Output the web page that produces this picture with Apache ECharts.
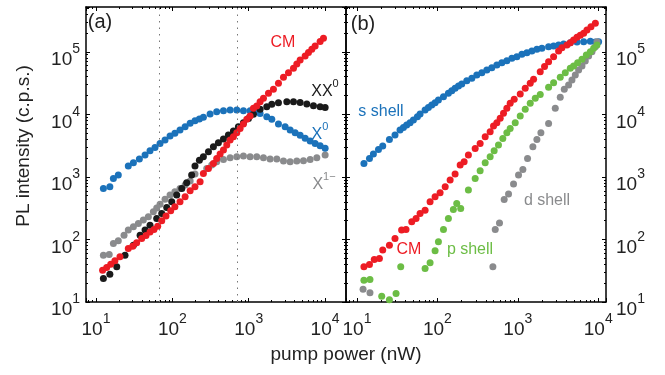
<!DOCTYPE html>
<html><head><meta charset="utf-8">
<script src="https://cdn.jsdelivr.net/npm/echarts@6/dist/echarts.min.js"></script>
<style>html,body{margin:0;padding:0;background:#fff}#c{width:665px;height:375px}</style>
</head><body><div id="c"></div>
<script>
// ---------- Panel (a) ----------
const aX1_x = [12.5,14.9,16.9,19.6,23.3,26.5,30.9,35.9,41.7,48.5,56.4,62.4,69.0,80.2,93.3,108,126,147,171,198,282,328,381,467,571,698,853,1043,1275,1560,1906,2333,2854,3489,4266,5214,6380,7800,10020];
const aX1_y = [56.1,57.4,86.1,95.0,117,141,159,180,204,230,277,318,367,441,512,578,654,739,857,1109,1366,1545,1746,1904,2024,2100,2152,2100,2100,2024,1927,1927,1791,1746,1791,1813,1904,2024,2233];

const aX0_x = [12.5,15.2,16.9,19.6,26.5,30.9,37.0,43.9,51.0,59.3,69.0,80.2,93.3,108,126,147,171,198,226,255,312,381,467,571,698,853,1043,1213,1410,1724,2006,2452,2999,3489,4057,4717,5486,6380,7415,8621,10020];
const aX0_y = [653,695,944,1068,1489,1683,1927,2233,2619,2962,3432,3880,4497,4963,5613,6350,7181,7925,8420,8963,10120,11020,11430,11720,11720,11430,11430,11020,10350,9160,8317,6996,6350,5613,5090,4617,4130,3742,3432,3153,2860];

const aXX_x = [12.5,15.2,18.7,24.0,30.9,37.8,43.9,51.0,62.4,72.6,84.4,98.2,114,133,154,179,198,226,255,297,345,401,467,542,631,733,853,993,1153,1410,1724,2006,2452,3155,3859,4717,5768,7051,8621,10020];
const aXX_y = [23.7,27.8,36.5,56.1,81.1,117,141,169,217,261,325,400,512,655,807,1070,1490,1850,2099,2525,3035,3519,4030,4670,5410,6345,7350,8620,10000,12030,13270,14440,15360,15930,15930,15530,14620,13750,13260,12920];

const aCM_x = [12.2,13.8,15.6,17.7,20.6,26.5,30.3,34.1,39.7,45.2,51.0,57.5,64.3,72.6,82.6,95.2,108,126,147,171,198,231,255,297,345,381,422,467,516,571,631,698,772,853,944,1043,1153,1275,1410,1560,1815,2108,2452,2854,3318,3859,4266,4717,5486,6065,6706,7415,8621,9531];
const aCM_y = [32.3,35.6,40.3,45.5,52.7,71.7,78.2,88.3,104,116,131,144,163,199,236,287,333,400,481,600,695,836,1137,1366,1641,1973,2317,2684,3227,3880,4387,5084,5963,6996,8317,9400,12470,13590,15930,18030,21670,25120,31320,39070,46430,54490,63880,73990,85760,97000,109700,124000,145500,164400];

const aGuides = [67, 705];

// ---------- Panel (b) ----------
const bS_x = [12.2,14.3,16.0,18.5,20.9,25.3,29.7,34.3,37.8,41.5,45.7,50.3,56.4,60.9,70.3,77.3,85.1,93.6,103,119,137,151,166,183,201,232,268,309,357,412,475,549,633,731,844,973,1124,1297,1496,1727,1994,2415,2788,3217,3714,4497,5446,6594,7984,9213,10120];
const bS_y = [1641,1973,2316,2750,3110,3975,4667,5613,6185,6741,7346,8106,9165,10110,11720,12920,14090,15360,16940,19150,21670,23890,26040,28380,30550,34570,37670,42590,46430,51200,55760,61530,67050,72150,78640,83580,91170,96940,103100,109600,113700,120900,123900,128500,133400,140100,143600,145300,147100,143600,145300];

const bD_x = [11.9,14.5,490,524,592,677,767,885,1021,1156,1322,1540,1727,1937,2415,2924,3373,3784,4285,4713,5189,5709,6283,6910,7602,8363,9213,9654];
const bD_y = [16.0,14.0,36.5,144,184,436,531,767,1069,1318,1976,3035,3975,5080,7160,12470,18710,25120,29460,35420,42590,51200,59330,71320,85760,100500,120900,145300];

const bP_x = [12.2,14.5,20.3,25.3,30.6,35.0,70.3,81.1,93.6,103,119,137,158,174,195,243,295,340,393,453,508,575,651,731,804,929,1072,1237,1427,1649,1901,2415,2788,3373,3894,4497,4943,5547,6283,7116,7984,8774,9654];
const bP_y = [22.3,22.9,12.4,10.9,13.7,36.5,34.3,42.3,65.8,91.6,144,216,301,376,313,615,945,1253,1683,2099,2619,3226,4120,5080,5960,7346,9390,12020,14990,18030,20850,26990,32040,39070,46430,54490,59330,67050,75850,88940,100500,113700,128500];

const bCM_x = [12.2,14.3,16.4,19.0,20.9,25.3,29.7,35.9,40.7,48.0,54.3,60.9,70.3,81.1,93.6,108,125,144,166,192,215,243,295,340,393,453,499,549,604,664,731,804,902,1072,1237,1427,1571,1901,2150,2415,2788,3217,3539,4085,4497,4943,5446,5985,6594,7247,8128,9213];
const bCM_y = [36.5,39.8,47.8,49.6,67.5,81.1,104,141,144,191,216,260,294,400,481,557,695,889,1109,1545,1746,2233,2851,3430,4385,5270,6500,7346,8625,10380,12470,14990,17380,21140,26040,31320,36290,48180,58000,69620,83580,103100,116500,128500,140100,154400,170200,183300,197400,223000,252100,285000];

// ---------- Axes ranges ----------
const aXRange = [7.4, 18800];
const bXRange = [7.3, 12500];
const yRange = [10, 520000];

const FONT = "'Liberation Sans', Arial, Helvetica, sans-serif";
const RED = '#ed1c24', BLUE = '#1b72ba', BLACK = '#1a1a1a', GRAY = '#8a8b8d', GREEN = '#6cbd45';

function pts(xs, ys) { return xs.map((x, i) => [x, ys[i]]); }
function lbl(v) {
  const l = Math.log10(v), e = Math.round(l);
  if (Math.abs(l - e) > 1e-6) return '';
  return '{b|10}{s|' + e + '}';
}
const RICH = {
  b: { fontSize: 19, lineHeight: 19, padding: [8, 0, 7, 0], verticalAlign: 'top', fontFamily: FONT, color: '#222' },
  s: { fontSize: 14, lineHeight: 14, verticalAlign: 'top', fontFamily: FONT, color: '#222' }
};
function axisBase(grid, range, pos, label) {
  return {
    type: 'log', logBase: 10, gridIndex: grid, min: range[0], max: range[1], position: pos,
    axisLine: { show: true, onZero: false, lineStyle: { color: '#000', width: 1.5 } },
    axisTick: { show: true, inside: true, length: 4, lineStyle: { color: '#000', width: 1 } },
    minorTick: { show: true, splitNumber: 9, length: 2, lineStyle: { color: '#000', width: 1 } },
    splitLine: { show: false },
    axisLabel: label ? Object.assign({ formatter: lbl, rich: RICH, fontFamily: FONT }, label) : { show: false }
  };
}
function sc(xi, yi, xs, ys, color, extra) {
  return Object.assign({
    type: 'scatter', xAxisIndex: xi, yAxisIndex: yi, data: pts(xs, ys),
    symbol: 'circle', symbolSize: 7, itemStyle: { color: color, opacity: 1 }, silent: true
  }, extra || {});
}

const chart = echarts.init(document.getElementById('c'), null, { renderer: 'canvas' });
chart.setOption({
  animation: false,
  backgroundColor: '#fff',
  grid: [
    { left: 86, top: 7, width: 260, height: 295, show: false },
    { left: 346, top: 7, width: 260, height: 295, show: false }
  ],
  xAxis: [
    axisBase(0, aXRange, 'bottom', { margin: 10 }),
    axisBase(0, aXRange, 'top', null),
    axisBase(1, bXRange, 'bottom', { margin: 10 }),
    axisBase(1, bXRange, 'top', null)
  ],
  yAxis: [
    axisBase(0, yRange, 'left', { margin: 6, align: 'right' }),
    axisBase(0, yRange, 'right', null),
    axisBase(1, yRange, 'left', null),
    axisBase(1, yRange, 'right', { margin: 10, align: 'left' })
  ],
  series: [
    sc(0, 0, aX1_x, aX1_y, GRAY, {
      markLine: {
        silent: true, symbol: ['none', 'none'], label: { show: false },
        lineStyle: { color: '#777', type: [1.5, 5], width: 1 },
        data: aGuides.map(v => ({ xAxis: v }))
      }
    }),
    sc(0, 0, aX0_x, aX0_y, BLUE),
    sc(0, 0, aXX_x, aXX_y, BLACK),
    sc(0, 0, aCM_x, aCM_y, RED),
    sc(2, 3, bS_x, bS_y, BLUE),
    sc(2, 3, bD_x, bD_y, GRAY),
    sc(2, 3, bP_x, bP_y, GREEN),
    sc(2, 3, bCM_x, bCM_y, RED)
  ],
  graphic: [
    { type: 'text', x: 24, y: 146, rotation: Math.PI / 2, style: { text: 'PL intensity (c.p.s.)', font: '19px ' + FONT, fill: '#222', align: 'center', verticalAlign: 'middle' } },
    { type: 'text', x: 346, y: 355, style: { text: 'pump power (nW)', font: '19px ' + FONT, fill: '#222', align: 'center', verticalAlign: 'middle' } },
    { type: 'text', x: 100, y: 22, style: { text: '(a)', font: '20px ' + FONT, fill: '#222', align: 'center', verticalAlign: 'middle' } },
    { type: 'text', x: 363, y: 24, style: { text: '(b)', font: '20px ' + FONT, fill: '#222', align: 'center', verticalAlign: 'middle' } },
    { type: 'text', x: 283, y: 43, style: { text: 'CM', font: '16px ' + FONT, fill: RED, align: 'center', verticalAlign: 'middle' } },
    { type: 'text', x: 325, y: 86, style: { text: '{m|XX}{s|0}', align: 'center', verticalAlign: 'middle',
      rich: { m: { fontSize: 16, lineHeight: 16, padding: [6, 0, 0, 0], verticalAlign: 'top', fontFamily: FONT, fill: BLACK }, s: { fontSize: 11, lineHeight: 11, verticalAlign: 'top', fontFamily: FONT, fill: BLACK } } } },
    { type: 'text', x: 320, y: 129, style: { text: '{m|X}{s|0}', align: 'center', verticalAlign: 'middle',
      rich: { m: { fontSize: 16, lineHeight: 16, padding: [6, 0, 0, 0], verticalAlign: 'top', fontFamily: FONT, fill: BLUE }, s: { fontSize: 11, lineHeight: 11, verticalAlign: 'top', fontFamily: FONT, fill: BLUE } } } },
    { type: 'text', x: 324, y: 179, style: { text: '{m|X}{s|1\u2212}', align: 'center', verticalAlign: 'middle',
      rich: { m: { fontSize: 16, lineHeight: 16, padding: [6, 0, 0, 0], verticalAlign: 'top', fontFamily: FONT, fill: GRAY }, s: { fontSize: 11, lineHeight: 11, verticalAlign: 'top', fontFamily: FONT, fill: GRAY } } } },
    { type: 'text', x: 381, y: 112, style: { text: 's shell', font: '16px ' + FONT, fill: BLUE, align: 'center', verticalAlign: 'middle' } },
    { type: 'text', x: 409, y: 250, style: { text: 'CM', font: '16px ' + FONT, fill: RED, align: 'center', verticalAlign: 'middle' } },
    { type: 'text', x: 470, y: 250, style: { text: 'p shell', font: '16px ' + FONT, fill: GREEN, align: 'center', verticalAlign: 'middle' } },
    { type: 'text', x: 547, y: 201, style: { text: 'd shell', font: '16px ' + FONT, fill: GRAY, align: 'center', verticalAlign: 'middle' } }
  ]
});
</script>
</body></html>
